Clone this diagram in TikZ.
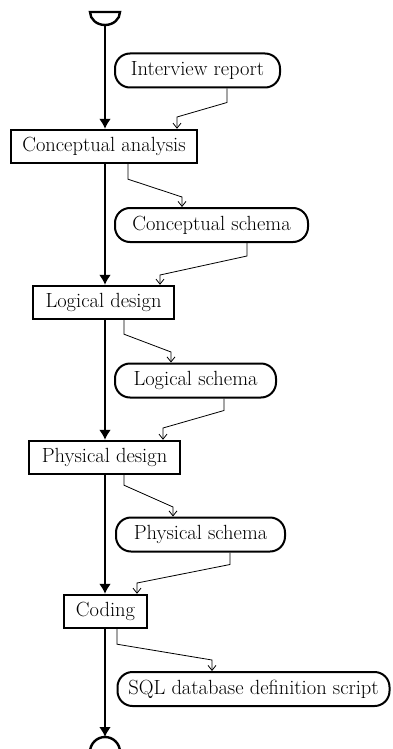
\documentclass[tikz,border=0pt]{standalone}
\usetikzlibrary{arrows.meta}
\begin{document}
\begin{tikzpicture}[x=1pt,y=-1pt,
  every node/.style={font=\fontsize{20.5}{23}\selectfont, inner sep=0pt},
  actbox/.style={draw, line width=2.4pt, minimum height=33pt},
  objpill/.style={draw, line width=2pt, rounded corners=15pt, minimum height=34pt},
  mainflow/.style={line width=2.5pt, -{Latex[length=10pt,width=12pt]}},
  dataflow/.style={line width=0.8pt, -{Straight Barb[length=5pt,width=8pt]}}]
\useasboundingbox (0,0) rectangle (392,749);
% start / end symbols
\draw[line width=2.4pt] (90,12) -- (120,12) arc[start angle=0,end angle=180,x radius=15,y radius=13] -- cycle;
\coordinate (start) at (105,25);
\coordinate (finish) at (105,737);
\draw[line width=2.4pt] (90,752) arc[start angle=180,end angle=360,radius=15];
% activities
\node[actbox, minimum width=186pt] (ca) at (104,146.5) {Conceptual analysis};
\node[actbox, minimum width=141pt] (ld) at (103.5,302.5) {Logical design};
\node[actbox, minimum width=151pt] (pd) at (104.5,457.5) {Physical design};
\node[actbox, minimum width=83pt] (cod) at (105.5,611.5) {Coding};
% objects
\node[objpill, minimum width=165pt] (ir) at (197.5,70.5) {Interview report};
\node[objpill, minimum width=193pt] (cs) at (211.5,225) {Conceptual schema};
\node[objpill, minimum width=161pt] (ls) at (195.5,380.5) {Logical schema};
\node[objpill, minimum width=169pt] (ps) at (200.5,534.5) {Physical schema};
\node[objpill, minimum width=272pt] (sql) at (253.5,689) {SQL database definition script};
% main flow
\draw[mainflow] (start) -- (ca.north -| start);
\draw[mainflow] (ca.south -| start) -- (ld.north -| start);
\draw[mainflow] (ld.south -| start) -- (pd.north -| start);
\draw[mainflow] (pd.south -| start) -- (cod.north -| start);
\draw[mainflow] (cod.south -| start) -- (finish);
% data flows
\draw[dataflow] (ir.south -| 227,0) -- ++(0,14) -- (177,117) -- (ca.north -| 177,0);
\draw[dataflow] (ca.south -| 128,0) -- ++(0,15) -- (182,197) -- (cs.north -| 182,0);
\draw[dataflow] (cs.south -| 247,0) -- ++(0,13) -- (160,275) -- (ld.north -| 160,0);
\draw[dataflow] (ld.south -| 124,0) -- ++(0,14) -- (171,352) -- (ls.north -| 171,0);
\draw[dataflow] (ls.south -| 224,0) -- ++(0,12) -- (163,428) -- (pd.north -| 163,0);
\draw[dataflow] (pd.south -| 124,0) -- ++(0,10) -- (173,507) -- (ps.north -| 173,0);
\draw[dataflow] (ps.south -| 230,0) -- ++(0,12) -- (137,583) -- (cod.north -| 137,0);
\draw[dataflow] (cod.south -| 117,0) -- ++(0,15) -- (212,660) -- (sql.north -| 212,0);
\end{tikzpicture}
\end{document}
